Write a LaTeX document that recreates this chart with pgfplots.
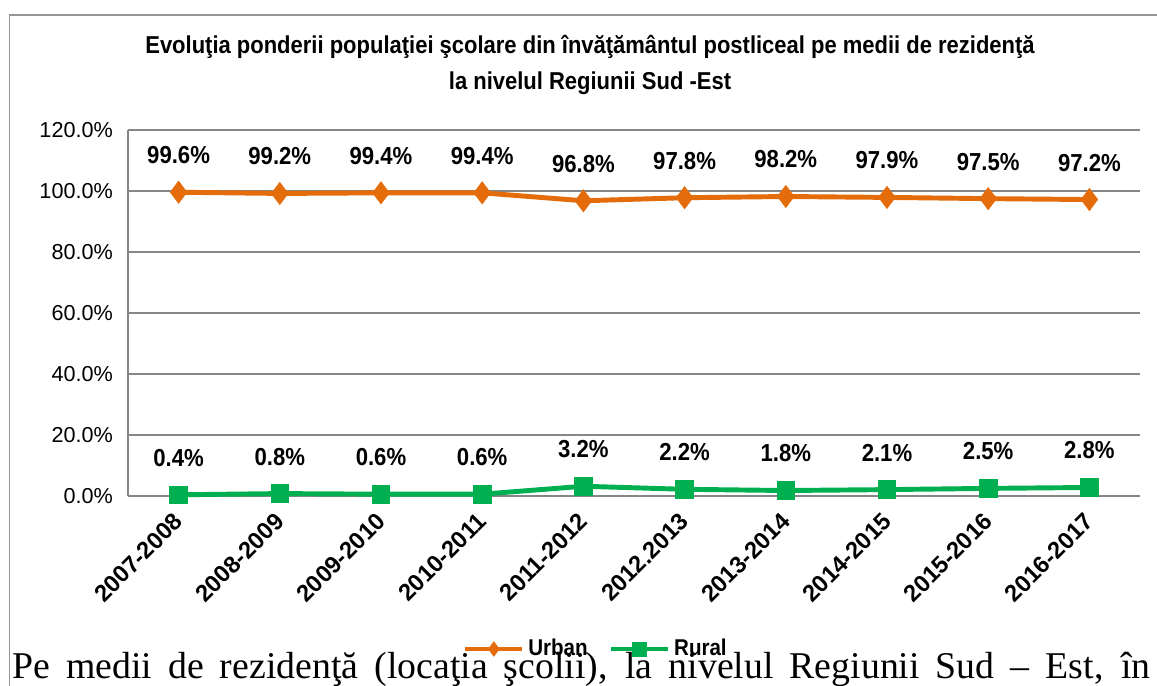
\documentclass[border=0pt]{standalone}
\usepackage{fontspec}
\usepackage{pgfplots}
\pgfplotsset{compat=1.18}
\setmainfont{Liberation Sans}
\newfontfamily\condfont[FakeStretch=0.9]{Liberation Sans}
\newfontfamily\seriffont{Liberation Serif}
\definecolor{urbanorange}{RGB}{228,108,10}
\definecolor{ruralgreen}{RGB}{0,176,80}
\definecolor{gridgray}{RGB}{134,134,134}
\definecolor{framegray}{RGB}{150,150,150}

\begin{document}
\begin{tikzpicture}
% canvas: 1 px of the reference = 0.02 cm
\path[use as bounding box] (0,0) rectangle (23.14,-13.7);
\draw[framegray, line width=1.1pt] (0.19,-13.8) -- (0.19,-0.3) -- (23.3,-0.3);

\node[align=center, font=\condfont\bfseries\fontsize{13.9}{20}\selectfont] at (11.8,-1.3)
  {Evoluţia ponderii populaţiei şcolare din învăţământul postliceal pe medii de rezidenţă\\
   la nivelul Regiunii Sud -Est};

\begin{axis}[
    scale only axis,
    width=20.24cm,
    height=7.32cm,
    at={(2.56cm,-9.92cm)},
    anchor=south west,
    xmin=-0.5, xmax=9.5,
    ymin=0, ymax=120,
    xtick={0,...,9},
    xticklabels={2007-2008,2008-2009,2009-2010,2010-2011,2011-2012,2012.2013,2013-2014,2014-2015,2015-2016,2016-2017},
    ytick={0,20,...,120},
    yticklabel={\pgfmathprintnumber[fixed,fixed zerofill,precision=1]{\tick}\%},
    /pgf/number format/assume math mode=true,
    major tick length=0pt,
    axis x line*=bottom,
    axis y line*=left,
    axis line style={draw=gridgray, line width=1.1pt, -},
    ymajorgrids,
    major grid style={draw=gridgray, line width=1.1pt},
    yticklabel style={font=\fontsize{12.3}{14}\selectfont, xshift=-0.18cm},
    xticklabel style={font=\bfseries\fontsize{13.5}{16}\selectfont, inner sep=0pt,
                      xshift=-0.12cm, yshift=-0.30cm, rotate=45, anchor=north east},
    clip=false,
    nodes near coords={\pgfmathprintnumber[fixed,fixed zerofill,precision=1]{\pgfplotspointmeta}\%},
    nodes near coords style={font=\condfont\bfseries\fontsize{14}{16}\selectfont,
                             text=black, anchor=center, yshift=0.74cm},
    legend columns=2,
    legend style={draw=none, fill=none, at={(0.463,-0.418)}, anchor=center,
                  font=\condfont\bfseries\fontsize{13}{15}\selectfont,
                  /tikz/every even column/.append style={column sep=0.35cm}},
    legend image code/.code={\draw[#1, mark repeat=2, mark phase=2, mark size=4pt]
        plot coordinates {(0cm,0cm) (0.57cm,0cm) (1.14cm,0cm)};},
]

% === Urban ===
\addplot[urbanorange, line width=2.8pt, mark=diamond*, mark size=6.2pt,
         mark options={solid, fill=urbanorange, line width=0.5pt}]
coordinates {
    (0, 99.6)
    (1, 99.2)
    (2, 99.4)
    (3, 99.4)
    (4, 96.8)
    (5, 97.8)
    (6, 98.2)
    (7, 97.9)
    (8, 97.5)
    (9, 97.2)
};
\addlegendentry{Urban}

% === Rural ===
\addplot[ruralgreen, line width=2.8pt, mark=square*, mark size=5pt,
         mark options={solid, fill=ruralgreen, line width=0.5pt}]
coordinates {
    (0, 0.4)
    (1, 0.8)
    (2, 0.6)
    (3, 0.6)
    (4, 3.2)
    (5, 2.2)
    (6, 1.8)
    (7, 2.1)
    (8, 2.5)
    (9, 2.8)
};
\addlegendentry{Rural}

\end{axis}

\node[anchor=base west, inner sep=0pt, font=\seriffont\fontsize{21.5}{25}\selectfont]
  at (0.24,-13.56)
  {\makebox[22.76cm][s]{Pe medii de rezidenţă (locaţia şcolii), la nivelul Regiunii Sud – Est, în}};
\end{tikzpicture}
\end{document}
